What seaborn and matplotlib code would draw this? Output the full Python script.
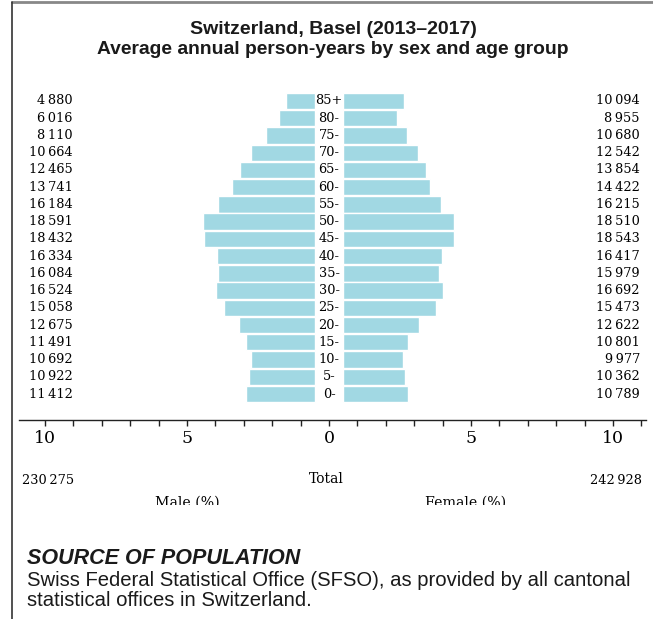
import numpy as np
import pandas as pd
import matplotlib
matplotlib.use("Agg")
import matplotlib.pyplot as plt
import seaborn as sns
from matplotlib.lines import Line2D
from matplotlib.patches import Rectangle
from matplotlib.ticker import MultipleLocator, FuncFormatter

# ---- data ----
ages = ["85+", "80-", "75-", "70-", "65-", "60-", "55-", "50-", "45-",
        "40-", "35-", "30-", "25-", "20-", "15-", "10-", "5-", "0-"]
male = [4880, 6016, 8110, 10664, 12465, 13741, 16184, 18591, 18432,
        16334, 16084, 16524, 15058, 12675, 11491, 10692, 10922, 11412]
female = [10094, 8955, 10680, 12542, 13854, 14422, 16215, 18510, 18543,
          16417, 15979, 16692, 15473, 12622, 10801, 9977, 10362, 10789]
male_total = 230275
female_total = 242928

BAR_COLOR = "#a1d8e3"
SERIF = "DejaVu Serif"
SANS = "Liberation Sans"
GAP = 0.5   # half-width of the central age-label column (x units)

grand = male_total + female_total
df = pd.DataFrame({"age": ages,
                   "male_pct": [-100 * m / grand for m in male],
                   "female_pct": [100 * f / grand for f in female]})


def fmt_num(n):
    return f"{n:,}".replace(",", "\u2009")


sns.set_style("white")
plt.rcParams["text.color"] = "black"
plt.rcParams["xtick.color"] = "black"

W, H = 653, 619
fig = plt.figure(figsize=(W / 100, H / 100), dpi=100)

ax_l, ax_r, ax_t, ax_b = 19, 646, 85.5, 420
ax = fig.add_axes([ax_l / W, 1 - ax_b / H, (ax_r - ax_l) / W, (ax_b - ax_t) / H])

bar_kw = dict(order=ages, color=BAR_COLOR, saturation=1, width=0.95,
              edgecolor="white", linewidth=1, orient="h", ax=ax)
sns.barplot(data=df, x="male_pct", y="age", **bar_kw)
n_m = len(ax.patches)
sns.barplot(data=df, x="female_pct", y="age", **bar_kw)
# open the central gap for the age labels
for i, p in enumerate(ax.patches):
    p.set_x(p.get_x() + (-GAP if i < n_m else GAP))

ax.set_xlim((ax_l - 329) / 28.4, (ax_r - 329) / 28.4)
pitch = (394 - 101) / 17
ax.set_ylim((ax_b - 101) / pitch, (ax_t - 101) / pitch)

# labels
for i, a in enumerate(ages):
    ax.text(0, i, a, ha="center", va="center", family=SERIF, fontsize=9.3)
    ax.text(-9.03, i, fmt_num(male[i]), ha="right", va="center",
            family=SERIF, fontsize=9.3)
    ax.text(10.95, i, fmt_num(female[i]), ha="right", va="center",
            family=SERIF, fontsize=9.3)

# axis styling
for s in ["left", "right", "top"]:
    ax.spines[s].set_visible(False)
ax.spines["bottom"].set_color("#222222")
ax.spines["bottom"].set_linewidth(1.0)
ax.set_yticks([])
ax.set_ylabel("")
ax.set_xlabel("")
ax.xaxis.set_major_locator(MultipleLocator(5))
ax.xaxis.set_minor_locator(MultipleLocator(1))
ax.xaxis.set_major_formatter(FuncFormatter(lambda v, _: f"{abs(v):.0f}"))
ax.tick_params(axis="x", which="both", bottom=True, direction="out",
               length=4, width=1, color="#222222", pad=3, labelsize=12.5)
for lab in ax.get_xticklabels():
    lab.set_family(SERIF)


def px(x, y):
    return x / W, 1 - y / H


# totals and axis names
fig.text(*px(22, 480), fmt_num(male_total), ha="left", va="center",
         family=SERIF, fontsize=9.3)
fig.text(*px(326, 479), "Total", ha="center", va="center",
         family=SERIF, fontsize=10)
fig.text(*px(642, 480), fmt_num(female_total), ha="right", va="center",
         family=SERIF, fontsize=9.3)
fig.text(*px(187, 503), "Male (%)", ha="center", va="center",
         family=SERIF, fontsize=10.2)
fig.text(*px(466, 503), "Female (%)", ha="center", va="center",
         family=SERIF, fontsize=10.2)
# the reference cuts these two labels off at the bottom
fig.add_artist(Rectangle(px(14, 540), (W - 14) / W, 35 / H,
                         transform=fig.transFigure, facecolor="white",
                         edgecolor="none", zorder=10))

# title
fig.text(*px(333, 29), "Switzerland, Basel (2013\u20132017)", ha="center",
         va="center", family=SANS, fontweight="bold", fontsize=14,
         color="#1a1a1a")
fig.text(*px(333, 50), "Average annual person-years by sex and age group",
         ha="center", va="center", family=SANS, fontweight="bold",
         fontsize=13.9, color="#1a1a1a")

# source note
fig.text(*px(27, 558), "SOURCE OF POPULATION", ha="left", va="center",
         family=SANS, fontweight="bold", fontstyle="italic", fontsize=15.5,
         color="#1a1a1a")
fig.text(*px(27, 580),
         "Swiss Federal Statistical Office (SFSO), as provided by all cantonal",
         ha="left", va="center", family=SANS, fontsize=14.6, color="#1a1a1a")
fig.text(*px(27, 601), "statistical offices in Switzerland.", ha="left",
         va="center", family=SANS, fontsize=14.6, color="#1a1a1a")

# frame lines
fig.add_artist(Line2D([12 / W, 1], [1 - 2 / H, 1 - 2 / H],
                      transform=fig.transFigure, color="#888888", lw=2))
fig.add_artist(Line2D([12 / W, 12 / W], [0, 1 - 2 / H],
                      transform=fig.transFigure, color="#333333", lw=1.2))

fig.savefig("out.png", dpi=100)
